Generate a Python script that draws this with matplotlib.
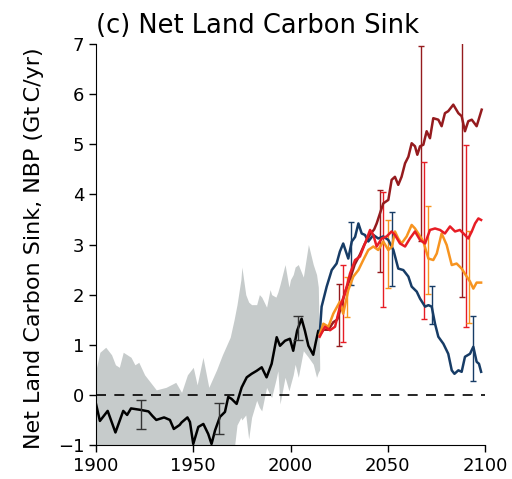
import matplotlib
matplotlib.use("Agg")
import matplotlib.pyplot as plt
import numpy as np

# Historical net land carbon sink (Gt C/yr)
hist_years = [1900, 1902, 1906, 1910, 1914, 1916, 1918, 1923, 1927, 1929, 1931, 1935, 1938,
              1940, 1943, 1944, 1947, 1948.3, 1950, 1952.6, 1955.2, 1957.7, 1959.4, 1961.2,
              1963.7, 1966.3, 1968, 1969.7, 1972.3, 1974.9, 1977.5, 1980, 1982.6, 1985.2,
              1987.7, 1990.3, 1992.9, 1994.6, 1997.2, 1999.7, 2001.4, 2003.4, 2005.7,
              2007.4, 2009.2, 2011.7, 2013, 2014.3, 2015]
hist_vals = [-0.18, -0.52, -0.32, -0.75, -0.32, -0.40, -0.27, -0.30, -0.33, -0.42, -0.50,
             -0.45, -0.50, -0.68, -0.60, -0.55, -0.45, -0.54, -0.98, -0.64, -0.58, -0.78,
             -0.98, -0.71, -0.44, -0.34, -0.04, -0.08, -0.18, 0.15, 0.35, 0.42, 0.48, 0.55,
             0.35, 0.62, 1.15, 0.98, 1.08, 1.12, 0.88, 1.28, 1.52, 1.28, 0.98, 0.80, 1.05,
             1.28, 1.20]

# Historical uncertainty band
band_years = [1900, 1902, 1905, 1908, 1910, 1912, 1914, 1916, 1918, 1920, 1922, 1925, 1927,
              1931, 1936, 1941, 1944, 1947, 1950, 1952, 1955, 1958, 1962, 1965, 1969, 1971,
              1972.5, 1974.5, 1975, 1977, 1978.5, 1980, 1982.6, 1984, 1985.2, 1987.7, 1989.5,
              1990.3, 1992.5, 1993.5, 1994.6, 1997.2, 1999.2, 2000, 2001.4, 2002.4, 2004,
              2006.6, 2009.2, 2011.7, 2013.4, 2014.3, 2015]
band_upper = [0.50, 0.85, 0.95, 0.80, 0.60, 0.55, 0.85, 0.80, 0.75, 0.60, 0.65, 0.40, 0.30,
              0.10, 0.15, 0.25, 0.05, 0.40, 0.55, 0.20, 0.75, 0.15, 0.50, 0.80, 1.15, 1.50,
              1.80, 2.30, 2.55, 2.00, 1.85, 1.80, 1.80, 2.00, 1.95, 1.75, 2.10, 2.00, 1.95,
              2.05, 2.20, 2.60, 2.15, 2.30, 2.40, 2.55, 2.60, 2.35, 3.00, 2.60, 2.40, 2.15,
              0.60]
band_lower = [-1.5, -1.5, -1.5, -1.5, -1.5, -1.5, -1.5, -1.5, -1.5, -1.5, -1.5, -1.5, -1.5,
              -1.5, -1.5, -1.5, -1.5, -1.5, -1.5, -1.5, -1.5, -1.5, -1.5, -1.5, -1.2, -1.1,
              -0.60, -0.45, -0.50, -0.40, -0.88, -0.45, -0.11, -0.25, -0.32, 0.15, 0.00,
              -0.05, 0.30, 0.48, -0.18, 0.35, 0.08, 0.20, 0.40, 0.61, 0.35, 0.88, 0.75, 0.61,
              0.35, 0.45, 0.50]

# Scenario projections
ssp126_years = [2015, 2016, 2018.6, 2021.2, 2023.7, 2025.4, 2027.1, 2029.7, 2031.5, 2033.2,
                2034.9, 2036.6, 2038.3, 2040, 2042.6, 2045.1, 2047.7, 2050.3, 2052.9, 2055.4,
                2058, 2060.6, 2062.3, 2064.9, 2066.6, 2069.2, 2070.9, 2072.6, 2074.3, 2076,
                2078.6, 2081.1, 2082.9, 2084.3, 2086.3, 2088, 2089.7, 2092.3, 2094, 2095.7,
                2096.9, 2098]
ssp126_vals = [1.20, 1.76, 2.16, 2.49, 2.62, 2.86, 3.02, 2.72, 3.06, 3.15, 3.42, 3.22, 3.19,
               3.06, 3.19, 3.12, 3.16, 3.09, 2.89, 2.52, 2.49, 2.36, 2.16, 2.06, 1.92, 1.76,
               1.79, 1.76, 1.42, 1.16, 1.02, 0.82, 0.49, 0.42, 0.49, 0.46, 0.76, 0.82, 0.96,
               0.66, 0.62, 0.46]

ssp245_years = [2015, 2016.9, 2019.5, 2022, 2025.4, 2027.1, 2029.7, 2032.3, 2034.9, 2037.4,
                2040, 2042.6, 2045.1, 2047.7, 2050.3, 2052.2, 2053.7, 2055.4, 2057.1, 2059.7,
                2062.3, 2064, 2065.7, 2068.3, 2070.9, 2073.4, 2075.2, 2077.7, 2080.3, 2082.9,
                2085.4, 2088, 2090.6, 2092.3, 2094, 2095.7, 2098]
ssp245_vals = [1.20, 1.42, 1.36, 1.62, 1.86, 1.62, 2.09, 2.36, 2.49, 2.69, 2.89, 2.96, 2.89,
               3.06, 2.89, 2.96, 3.26, 3.12, 3.02, 3.16, 3.39, 3.32, 3.22, 3.06, 2.72, 2.69,
               2.82, 3.22, 2.99, 2.59, 2.62, 2.52, 2.36, 2.26, 2.12, 2.24, 2.24]

ssp370_years = [2015, 2017.7, 2020.3, 2022.9, 2025.4, 2028, 2030.6, 2033.2, 2035.7, 2038.3,
                2040.9, 2042.6, 2044.3, 2046.9, 2049.4, 2052, 2053.7, 2056.3, 2058.9, 2061.4,
                2064, 2066.6, 2069.2, 2071.7, 2074.3, 2076.9, 2079.4, 2082, 2084.6, 2087.1,
                2089.7, 2091.4, 2093.2, 2094.9, 2096.6, 2098]
ssp370_vals = [1.16, 1.36, 1.29, 1.36, 1.76, 2.02, 2.42, 2.69, 2.76, 3.02, 3.29, 3.19, 2.96,
               3.12, 3.16, 3.26, 3.19, 3.02, 2.96, 3.12, 3.26, 3.09, 3.02, 3.29, 3.32, 3.29,
               3.22, 3.36, 3.26, 3.29, 3.19, 3.12, 3.26, 3.42, 3.52, 3.49]

ssp585_years = [2015, 2017, 2019.5, 2022, 2024, 2026, 2028, 2030.5, 2033, 2035.7, 2038,
                2040.9, 2043, 2044.3, 2047.7, 2050.3, 2052, 2053.7, 2055.4, 2057.1, 2058.9,
                2060.6, 2062.3, 2064, 2065.2, 2066.6, 2068.3, 2070, 2071.7, 2073.4, 2076,
                2077.7, 2079.4, 2081.1, 2083.7, 2086.3, 2088, 2089.7, 2091.4, 2093.2, 2095.7,
                2098.3]
ssp585_vals = [1.20, 1.30, 1.30, 1.45, 1.50, 1.75, 2.05, 2.30, 2.60, 2.80, 3.00, 3.20, 3.30,
               3.42, 3.82, 3.89, 4.29, 4.35, 4.19, 4.35, 4.62, 4.75, 5.02, 4.96, 4.79, 4.96,
               4.99, 5.26, 5.12, 5.52, 5.49, 5.36, 5.62, 5.66, 5.79, 5.62, 5.56, 5.26, 5.46,
               5.49, 5.36, 5.69]

# Uncertainty ranges (low / high) for selected periods
hist_err_years = [1923, 1963.4, 2004]
hist_err_low = [-0.69, -0.78, 1.09]
hist_err_high = [-0.10, -0.16, 1.57]

ssp126_err_years = [2031, 2052.3, 2072.6, 2094]
ssp126_err_low = [2.19, 2.17, 1.41, 0.28]
ssp126_err_high = [3.44, 3.64, 2.17, 1.57]

ssp245_err_years = [2028.9, 2050.3, 2070.9, 2091.8]
ssp245_err_low = [1.56, 2.14, 2.02, 1.44]
ssp245_err_high = [2.36, 3.49, 3.77, 3.26]

ssp370_err_years = [2026.8, 2047.7, 2068.6, 2090]
ssp370_err_low = [1.06, 1.76, 1.52, 1.36]
ssp370_err_high = [2.59, 4.05, 4.64, 4.99]

ssp585_err_years = [2025.1, 2046, 2067, 2088]
ssp585_err_low = [0.98, 2.46, 3.06, 1.96]
ssp585_err_high = [2.22, 4.08, 6.97, 8.80]

yticks = [-1, 0, 1, 2, 3, 4, 5, 6, 7]
xticks = [1900, 1950, 2000, 2050, 2100]

c126 = "#173c66"
c245 = "#f79420"
c370 = "#e71d25"
c585 = "#951b1e"

fig = plt.figure(figsize=(5.12, 4.79), dpi=100)
ax = fig.add_axes([96 / 512, 1 - 445 / 479, (485 - 96) / 512, (445 - 44) / 479])

ax.fill_between(band_years, band_lower, band_upper, color="#c6cbcb", lw=0, zorder=1)
ax.axhline(0, color="black", lw=1.2, ls=(0, (6, 5)), zorder=2)
ax.plot(hist_years, hist_vals, color="black", lw=1.8, zorder=3)


def draw_range(years, low, high, color, capsize):
    low = np.asarray(low)
    high = np.asarray(high)
    mid = (low + high) / 2
    ax.errorbar(years, mid, yerr=[mid - low, high - mid], fmt="none", ecolor=color,
                elinewidth=1.0, capsize=capsize, capthick=1.0, zorder=4)


draw_range(hist_err_years, hist_err_low, hist_err_high, "#333333", 3.5)

ax.plot(ssp585_years, ssp585_vals, color=c585, lw=1.8, zorder=5)
ax.plot(ssp126_years, ssp126_vals, color=c126, lw=1.8, zorder=5)
ax.plot(ssp245_years, ssp245_vals, color=c245, lw=1.8, zorder=5)
ax.plot(ssp370_years, ssp370_vals, color=c370, lw=1.8, zorder=5)

draw_range(ssp585_err_years, ssp585_err_low, ssp585_err_high, c585, 2.5)
draw_range(ssp370_err_years, ssp370_err_low, ssp370_err_high, c370, 2.5)
draw_range(ssp245_err_years, ssp245_err_low, ssp245_err_high, c245, 2.5)
draw_range(ssp126_err_years, ssp126_err_low, ssp126_err_high, c126, 2.5)

ax.set_xlim(1900, 2100)
ax.set_ylim(-1, 7)
ax.set_xticks(xticks)
ax.set_yticks(yticks)
ax.tick_params(labelsize=13, length=5, width=1)
ax.spines["top"].set_visible(False)
ax.spines["right"].set_visible(False)
ax.set_ylabel("Net Land Carbon Sink, NBP (Gt\u2009C/yr)", fontsize=16)
ax.yaxis.set_label_coords(-0.134, 0.49)
ax.set_title("(c) Net Land Carbon Sink", fontsize=18.5, loc="left", pad=8)

fig.savefig("out.png", dpi=100)
